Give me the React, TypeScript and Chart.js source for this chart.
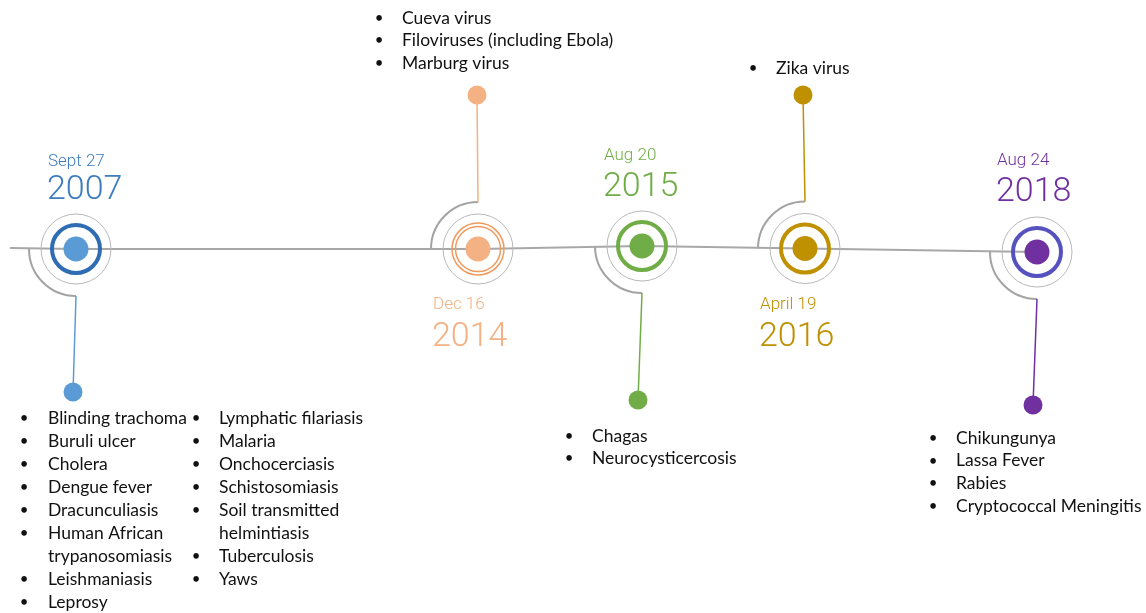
import React, { useEffect, useRef } from "react";
import { Chart, registerables } from "chart.js";

Chart.register(...registerables);

// ---- Data ----
const EVENT_DATES = ["Sept 27", "Dec 16", "Aug 20", "April 19", "Aug 24"];
const EVENT_YEARS = ["2007", "2014", "2015", "2016", "2018"];
const NODE_X = [76, 478, 642, 805, 1037];
const NODE_Y = [249, 249, 246, 248.5, 252];
const STEM_DIR = ["down", "up", "down", "up", "down"];
const STEM_END_X = [73, 477, 638, 803, 1033];
const STEM_END_Y = [392, 95, 400, 95, 405];
const DOT_COLORS = ["#5b9bd5", "#f4b183", "#70ad47", "#bf9000", "#7030a0"];
const RING_COLORS = ["#2e6db4", "#f19a5e", "#70ad47", "#bf9000", "#5552c0"];
const TEXT_COLORS = ["#3d7cc0", "#f4b183", "#70ad47", "#bf9000", "#7030a0"];
const DATE_LABEL_X = [48, 433, 604, 760, 997];
const DATE_LABEL_Y = [162, 305, 156, 305, 161];
const YEAR_LABEL_Y = [190, 337, 187, 337, 192];
const TIMELINE_START = { x: 10, y: 248 };

const LIST_2007_A = [
  "Blinding trachoma",
  "Buruli ulcer",
  "Cholera",
  "Dengue fever",
  "Dracunculiasis",
  "Human African\ntrypanosomiasis",
  "Leishmaniasis",
  "Leprosy",
];
const LIST_2007_B = [
  "Lymphatic filariasis",
  "Malaria",
  "Onchocerciasis",
  "Schistosomiasis",
  "Soil transmitted\nhelmintiasis",
  "Tuberculosis",
  "Yaws",
];
const LIST_2014 = ["Cueva virus", "Filoviruses (including Ebola)", "Marburg virus"];
const LIST_2015 = ["Chagas", "Neurocysticercosis"];
const LIST_2016 = ["Zika virus"];
const LIST_2018 = ["Chikungunya", "Lassa Fever", "Rabies", "Cryptococcal Meningitis"];

const LIST_BLOCKS = [
  { items: LIST_2007_A, bulletX: 24, textX: 48, y: 418, lh: 23 },
  { items: LIST_2007_B, bulletX: 196, textX: 219, y: 418, lh: 23 },
  { items: LIST_2014, bulletX: 379, textX: 402, y: 18, lh: 22.5 },
  { items: LIST_2016, bulletX: 753, textX: 776, y: 68, lh: 22.5 },
  { items: LIST_2015, bulletX: 569, textX: 592, y: 436, lh: 22.5 },
  { items: LIST_2018, bulletX: 933, textX: 956, y: 438, lh: 22.7 },
];

const ARC_R = 47;
const OUTER_R = 35;
const RING_R = 24;
const DOT_R = 12.5;
const END_R = 9.5;

const W = 1146;
const H = 613;

const decorPlugin = {
  id: "decor",
  beforeDatasetsDraw(chart: any) {
    const { ctx, scales } = chart;
    const xs = scales.x;
    const ys = scales.y;
    ctx.save();
    ctx.strokeStyle = "#a3a3a3";
    ctx.lineWidth = 2;
    NODE_X.forEach((nx, i) => {
      const cx = xs.getPixelForValue(nx);
      const cy = ys.getPixelForValue(NODE_Y[i]);
      ctx.beginPath();
      if (STEM_DIR[i] === "down") ctx.arc(cx, cy, ARC_R, Math.PI / 2, Math.PI);
      else ctx.arc(cx, cy, ARC_R, Math.PI, Math.PI * 1.5);
      ctx.stroke();
    });
    ctx.restore();
  },
  afterDraw(chart: any) {
    const { ctx, scales } = chart;
    const xs = scales.x;
    const ys = scales.y;
    ctx.save();
    ctx.textBaseline = "middle";
    ctx.textAlign = "left";
    // dates
    EVENT_DATES.forEach((d, i) => {
      ctx.fillStyle = TEXT_COLORS[i];
      ctx.font = "300 17px Roboto, 'DejaVu Sans', sans-serif";
      ctx.fillText(d, xs.getPixelForValue(DATE_LABEL_X[i]), ys.getPixelForValue(DATE_LABEL_Y[i]));
      ctx.font = "300 34px Roboto, 'DejaVu Sans', sans-serif";
      ctx.fillText(EVENT_YEARS[i], xs.getPixelForValue(DATE_LABEL_X[i]) - 1, ys.getPixelForValue(YEAR_LABEL_Y[i]));
    });
    // lists
    ctx.fillStyle = "#111111";
    LIST_BLOCKS.forEach((b) => {
      let row = 0;
      b.items.forEach((item) => {
        const lines = item.split("\n");
        lines.forEach((ln, k) => {
          const y = ys.getPixelForValue(b.y + row * b.lh);
          if (k === 0) {
            ctx.font = "15px Lato, 'Open Sans', sans-serif";
            ctx.textAlign = "center";
            ctx.fillText("•", xs.getPixelForValue(b.bulletX), y);
            ctx.textAlign = "left";
          }
          ctx.font = "17.5px Lato, 'Open Sans', sans-serif";
          ctx.fillText(ln, xs.getPixelForValue(b.textX), y);
          row++;
        });
      });
    });
    ctx.restore();
  },
};

export default function App() {
  const ref = useRef<HTMLCanvasElement | null>(null);
  useEffect(() => {
    if (!ref.current) return;
    const nodes = NODE_X.map((x, i) => ({ x, y: NODE_Y[i] }));
    const timeline = [TIMELINE_START, ...nodes];
    const stemDatasets = NODE_X.map((x, i) => ({
      type: "line" as const,
      data: [
        { x, y: NODE_Y[i] + (STEM_DIR[i] === "down" ? ARC_R : -ARC_R) },
        { x: STEM_END_X[i], y: STEM_END_Y[i] },
      ],
      borderColor: DOT_COLORS[i],
      borderWidth: 1.5,
      pointRadius: 0,
      order: 5,
    }));
    const chart = new Chart(ref.current, {
      type: "scatter",
      data: {
        datasets: [
          {
            type: "line",
            data: timeline,
            borderColor: "#a8a8a8",
            borderWidth: 2,
            pointRadius: 0,
            tension: 0,
            order: 10,
          },
          ...stemDatasets,
          {
            data: nodes,
            pointRadius: OUTER_R,
            borderColor: "#b8b8b8",
            borderWidth: 1,
            backgroundColor: "rgba(0,0,0,0)",
            order: 4,
          },
          {
            data: nodes,
            pointRadius: NODE_X.map((_, i) => (i === 1 ? 22.5 : RING_R)),
            borderWidth: NODE_X.map((_, i) => (i === 1 ? 1.5 : 4)),
            borderColor: RING_COLORS,
            backgroundColor: "rgba(0,0,0,0)",
            order: 3,
          },
          {
            data: [nodes[1]],
            pointRadius: 26,
            borderWidth: 1.5,
            borderColor: RING_COLORS[1],
            backgroundColor: "rgba(0,0,0,0)",
            order: 3,
          },
          {
            data: nodes,
            pointRadius: DOT_R,
            borderWidth: 0,
            backgroundColor: DOT_COLORS,
            order: 2,
          },
          {
            data: STEM_END_X.map((x, i) => ({ x, y: STEM_END_Y[i] })),
            pointRadius: END_R,
            borderWidth: 0,
            backgroundColor: DOT_COLORS,
            order: 1,
          },
        ] as any,
      },
      options: {
        animation: false,
        responsive: true,
        maintainAspectRatio: false,
        events: [],
        layout: { padding: 0, autoPadding: false },
        plugins: { legend: { display: false }, tooltip: { enabled: false } },
        scales: {
          x: { type: "linear", min: 0, max: W, display: false },
          y: { type: "linear", min: 0, max: H, reverse: true, display: false },
        },
      },
      plugins: [decorPlugin],
    });
    return () => chart.destroy();
  }, []);
  return (
    <div style={{ position: "fixed", left: 0, top: 0, width: W, height: H, background: "#fff" }}>
      <canvas ref={ref} />
    </div>
  );
}
